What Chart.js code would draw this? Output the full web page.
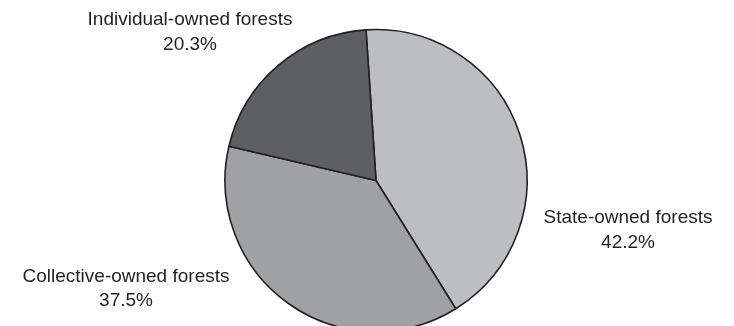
<!DOCTYPE html>
<html>
<head>
<meta charset="utf-8">
<script src="https://cdn.jsdelivr.net/npm/chart.js@4/dist/chart.umd.min.js"></script>
<style>
  html, body { margin: 0; padding: 0; background: #ffffff; overflow: hidden; }
  #wrap { width: 734px; height: 326px; position: relative; }
</style>
</head>
<body>
<div id="wrap"><canvas id="c" width="734" height="326"></canvas></div>
<script>
const categories = ["State-owned forests", "Collective-owned forests", "Individual-owned forests"];
const shares = [42.2, 37.5, 20.3];
const percentLabels = ["42.2%", "37.5%", "20.3%"];
const sliceColors = ["#bdbec1", "#a0a1a3", "#5e5f62"];
// label anchor points (text centre) for each category, in canvas pixels
const labelAnchors = [
  { x: 628, y1: 218, y2: 243 },
  { x: 126, y1: 277, y2: 301 },
  { x: 190, y1: 20, y2: 45 }
];

const outsideLabels = {
  id: 'outsideLabels',
  afterDraw(chart) {
    const ctx = chart.ctx;
    ctx.save();
    ctx.fillStyle = '#231f20';
    ctx.font = '19px "Liberation Sans", Arial, sans-serif';
    ctx.textAlign = 'center';
    ctx.textBaseline = 'middle';
    categories.forEach((name, i) => {
      const a = labelAnchors[i];
      ctx.fillText(name, a.x, a.y1);
      ctx.fillText(percentLabels[i], a.x, a.y2);
    });
    ctx.restore();
  }
};

new Chart(document.getElementById('c'), {
  type: 'pie',
  data: {
    labels: categories,
    datasets: [{
      data: shares,
      backgroundColor: sliceColors,
      borderColor: '#231f20',
      borderWidth: 1.6,
      borderAlign: 'center'
    }]
  },
  options: {
    responsive: false,
    animation: false,
    devicePixelRatio: 1,
    rotation: -3.8,
    radius: 151,
    layout: { padding: { left: 18, right: 0, top: 35, bottom: 0 } },
    plugins: {
      legend: { display: false },
      tooltip: { enabled: false },
      title: { display: false }
    }
  },
  plugins: [outsideLabels]
});
</script>
</body>
</html>
